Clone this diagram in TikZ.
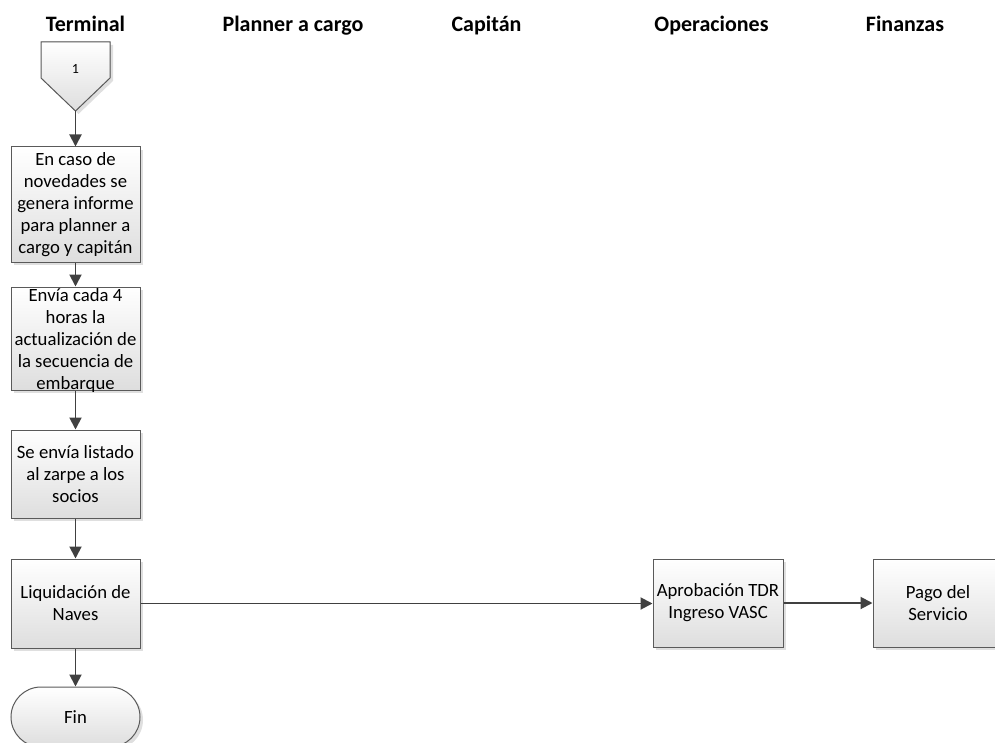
\documentclass[tikz,border=0pt]{standalone}
\usepackage{fontspec}
\setmainfont{Carlito}
\usetikzlibrary{arrows.meta,shadows}
\definecolor{edge}{HTML}{5A5A5A}
\definecolor{wire}{HTML}{404040}
\tikzset{
  lane/.style={font=\fontsize{22}{26}\selectfont\bfseries, text=black, anchor=base, inner sep=0pt},
  procbox/.style={draw=edge, line width=1pt, top color=white, bottom color=black!13,
    drop shadow={opacity=0.25, shadow xshift=3pt, shadow yshift=-3pt},
    inner sep=0pt, minimum width=129pt},
  txt/.style={align=center, font=\fontsize{18.7}{22}\selectfont, inner sep=0pt},
  flow/.style={draw=wire, line width=1.9pt, -{Triangle[length=12pt,width=12pt]}},
}
\begin{document}
\begin{tikzpicture}[x=1pt, y=-1pt]
\useasboundingbox (0,0) rectangle (995,743);
\clip (0,0) rectangle (995,743);

% swimlane titles
\node[lane] (hT) at (85.5,32) {Terminal};
\node[lane] (hP) at (293,32) {Planner a cargo};
\node[lane] (hC) at (486.5,32) {Capitán};
\node[lane] (hO) at (711.5,32) {Operaciones};
\node[lane] (hF) at (905,32) {Finanzas};

% off-page connector 1
\filldraw[draw=edge, line width=1pt, top color=white, bottom color=black!13,
  drop shadow={opacity=0.25, shadow xshift=3pt, shadow yshift=-3pt}]
  (41,42) -- (110,42) -- (110,78) -- (75.5,111) -- (41,78) -- cycle;
\node[font=\fontsize{14}{16}\selectfont, inner sep=0pt] (c1) at (75.5,69) {1};
\coordinate (c1tip) at (75.5,111);

% Terminal lane
\node[procbox, minimum height=115pt] (b1) at (75.5,204.5) {};
\node[txt] (b1t) at (b1) {En caso de\\novedades se\\genera informe\\para planner a\\cargo y capitán};

\node[procbox, minimum height=103pt] (b2) at (75.5,338.5) {};
\node[txt] (b2t) at (75.5,341) {Envía cada 4\\horas la\\actualización de\\la secuencia de\\embarque};

\node[procbox, minimum height=88pt] (b3) at (75.5,474) {};
\node[txt] (b3t) at (b3) {Se envía listado\\al zarpe a los\\socios};

\node[procbox, minimum height=89pt] (b4) at (75.5,603.5) {};
\node[txt] (b4t) at (b4) {Liquidación de\\Naves};

\node[procbox, minimum height=60pt, rounded corners=30pt] (fin) at (75.5,717) {};
\node[txt] (fint) at (fin) {Fin};

% Operaciones and Finanzas lanes
\node[procbox, minimum width=130pt, minimum height=88pt] (ap) at (718,603) {};
\node[txt] (apt) at (ap) {Aprobación TDR\\Ingreso VASC};

\node[procbox, minimum width=130pt, minimum height=88pt] (pg) at (938,603) {};
\node[txt] (pgt) at (pg) {Pago del\\Servicio};

% connectors
\draw[flow] (c1tip) -- (b1.north);
\draw[flow] (b1.south) -- (b2.north);
\draw[flow] (b2.south) -- (b3.north);
\draw[flow] (b3.south) -- (b4.north);
\draw[flow] (b4.south) -- (fin.north);
\draw[flow] (b4.east) -- (b4.east -| ap.west);
\draw[flow] (ap.east) -- (pg.west);
\end{tikzpicture}
\end{document}
